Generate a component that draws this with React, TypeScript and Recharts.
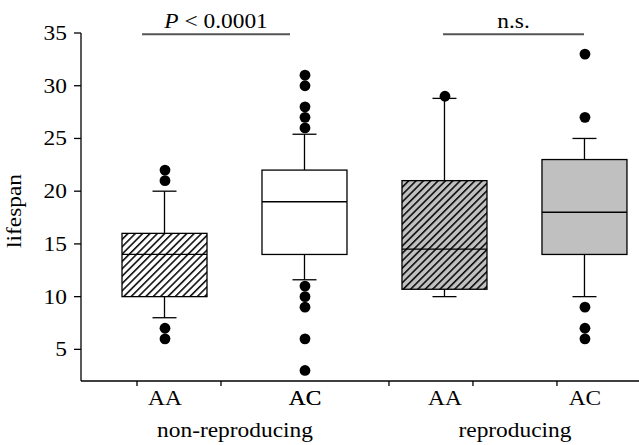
import React from 'react';
import { ComposedChart, Bar, Scatter, XAxis, YAxis, ReferenceLine } from 'recharts';

// box statistics, one entry per genotype box
const groups = ['AA', 'AC', 'AA', 'AC'];
const positions = [1, 2, 3, 4];
const q1 = [10, 14, 10.7, 14];
const medians = [14, 19, 14.5, 18];
const q3 = [16, 22, 21, 23];
const whiskerLow = [8, 11.6, 10, 10];
const whiskerHigh = [20, 25.4, 28.8, 25];
const outliers = [
  [22, 21, 7, 6],
  [31, 30, 28, 27, 26, 11, 10, 9, 6, 3],
  [29],
  [33, 27, 9, 7, 6],
];

const conditions = ['non-reproducing', 'reproducing'];
const conditionPositions = [1.5, 3.5];

const yTicks = [5, 10, 15, 20, 25, 30, 35];
const xTickMarks = [0.8, 1.4, 2.0, 2.6, 3.2, 3.8];

// significance brackets
const compFrom = [0.836, 2.986];
const compTo = [1.893, 3.993];
const compY = [34.88, 34.88];
const compLabels = ['P < 0.0001', 'n.s.'];

const boxFills = ['#ffffff', '#ffffff', '#c0c0c0', '#c0c0c0'];
const boxHatched = [true, false, true, false];

const FONT = '"Liberation Serif", "Times New Roman", serif';
const STRETCH = 1.17;

const boxData = positions.map((x, i) => ({
  x,
  name: groups[i],
  box: [q1[i], q3[i]],
  q1: q1[i],
  q3: q3[i],
  median: medians[i],
  lo: whiskerLow[i],
  hi: whiskerHigh[i],
}));

const outlierData = outliers.flatMap((vals, i) => vals.map((v) => ({ x: positions[i], v })));

const xTicks = [...xTickMarks, ...positions, ...conditionPositions].sort((a, b) => a - b);

const WideText = ({ x, y, anchor = 'middle', rotate = 0, children }: any) => (
  <text
    transform={`translate(${x},${y}) rotate(${rotate}) scale(${STRETCH},1)`}
    textAnchor={anchor}
    fontFamily={FONT}
    fontSize={20}
    fill="#000"
  >
    {children}
  </text>
);

const BoxShape = (props: any) => {
  const { x, y, width, height, payload, index } = props;
  if (!payload) return null;
  const ppu = height / (payload.q3 - payload.q1);
  const cx = x + width / 2;
  const yMed = y + (payload.q3 - payload.median) * ppu;
  const yHi = y - (payload.hi - payload.q3) * ppu;
  const yLo = y + height + (payload.q1 - payload.lo) * ppu;
  const cap = 12;
  const id = `hatch-${index}`;
  return (
    <g>
      {boxHatched[index] && (
        <defs>
          <pattern id={id} patternUnits="userSpaceOnUse" width={5.2} height={5.2} patternTransform="rotate(45)">
            <rect width={5.2} height={5.2} fill={boxFills[index]} />
            <line x1={0.8} y1={0} x2={0.8} y2={5.2} stroke="#000" strokeWidth={1.5} />
          </pattern>
        </defs>
      )}
      <line x1={cx} x2={cx} y1={y} y2={yHi} stroke="#000" strokeWidth={1.3} />
      <line x1={cx - cap} x2={cx + cap} y1={yHi} y2={yHi} stroke="#000" strokeWidth={1.3} />
      <line x1={cx} x2={cx} y1={y + height} y2={yLo} stroke="#000" strokeWidth={1.3} />
      <line x1={cx - cap} x2={cx + cap} y1={yLo} y2={yLo} stroke="#000" strokeWidth={1.3} />
      <rect
        x={x}
        y={y}
        width={width}
        height={height}
        fill={boxHatched[index] ? `url(#${id})` : boxFills[index]}
        stroke="#000"
        strokeWidth={1.3}
      />
      <line x1={x} x2={x + width} y1={yMed} y2={yMed} stroke="#000" strokeWidth={1.3} />
    </g>
  );
};

const Dot = ({ cx, cy }: any) => <circle cx={cx} cy={cy} r={5.4} fill="#000" />;

const XTick = ({ x, y, payload }: any) => {
  const v = payload.value;
  const gi = positions.indexOf(v);
  const ci = conditionPositions.indexOf(v);
  if (gi >= 0) return <WideText x={x} y={y + 24}>{groups[gi]}</WideText>;
  if (ci >= 0) return <WideText x={x} y={y + 56}>{conditions[ci]}</WideText>;
  return <line x1={x} x2={x} y1={y} y2={y + 5} stroke="#000" strokeWidth={1.3} />;
};

const YTick = ({ x, y, payload }: any) => (
  <WideText x={x} y={y + 7} anchor="end">{payload.value}</WideText>
);

const YLabel = (props: any) => {
  const vb = props.viewBox || { x: 0, y: 33, height: 348 };
  return (
    <WideText x={vb.x + 21} y={vb.y + vb.height / 2 + 4} rotate={-90}>
      lifespan
    </WideText>
  );
};

const CompLabel = ({ viewBox, text }: any) => {
  if (!viewBox) return null;
  const cx = viewBox.x + viewBox.width / 2;
  const italic = text.startsWith('P ');
  return (
    <WideText x={cx} y={viewBox.y - 6}>
      {italic ? (
        <>
          <tspan fontStyle="italic">P</tspan>
          {text.slice(1)}
        </>
      ) : (
        text
      )}
    </WideText>
  );
};

export default function App() {
  return (
    <div style={{ position: 'absolute', left: 0, top: 0, width: 639, height: 445, overflow: 'hidden', background: '#fff' }}>
      <ComposedChart width={639} height={445} data={boxData} margin={{ top: 33, right: 0, left: 0, bottom: 0 }}>
        <XAxis
          type="number"
          dataKey="x"
          domain={[0.4, 4.386]}
          allowDataOverflow
          ticks={xTicks}
          interval={0}
          tick={<XTick />}
          tickLine={false}
          tickSize={0}
          tickMargin={0}
          height={64}
          axisLine={{ stroke: '#000', strokeWidth: 1.3 }}
        />
        <YAxis
          type="number"
          domain={[2, 35]}
          allowDataOverflow
          ticks={yTicks}
          interval={0}
          width={81}
          tick={<YTick />}
          tickSize={7}
          tickMargin={7}
          tickLine={{ stroke: '#000', strokeWidth: 1.3 }}
          axisLine={{ stroke: '#000', strokeWidth: 1.3 }}
          label={{ value: 'lifespan', content: <YLabel /> }}
        />
        <Bar dataKey="box" barSize={85} shape={<BoxShape />} isAnimationActive={false} />
        <Scatter data={outlierData} dataKey="v" shape={<Dot />} isAnimationActive={false} />
        {compLabels.map((t, i) => (
          <ReferenceLine
            key={t}
            segment={[
              { x: compFrom[i], y: compY[i] },
              { x: compTo[i], y: compY[i] },
            ]}
            stroke="#555"
            strokeWidth={2}
            label={<CompLabel text={t} />}
          />
        ))}
      </ComposedChart>
    </div>
  );
}
